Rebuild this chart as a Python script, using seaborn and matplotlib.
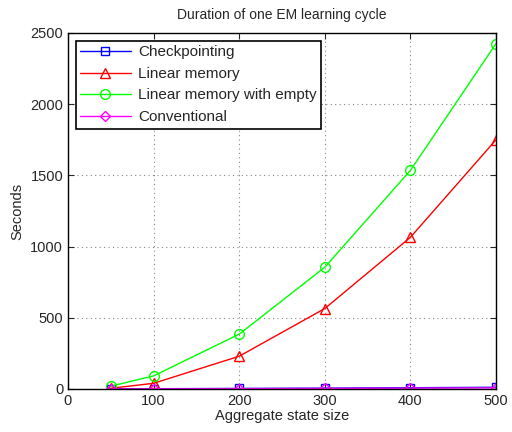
import matplotlib
matplotlib.use("Agg")
import matplotlib.pyplot as plt
import seaborn as sns
import pandas as pd

sizes = [50, 100, 200, 300, 400, 500]
checkpointing = [1, 2, 4, 6, 9, 12]
linear_memory = [5, 40, 230, 565, 1065, 1750]
linear_empty = [20, 92, 385, 855, 1535, 2425]
conventional = [0.5, 1, 2, 4, 6, 8]

series_names = ["Checkpointing", "Linear memory", "Linear memory with empty", "Conventional"]
series_values = [checkpointing, linear_memory, linear_empty, conventional]
colors = ["#0000ff", "#ff0000", "#00ff00", "#ff00ff"]
markers = ["s", "^", "o", "D"]
msizes = [5.5, 7, 7, 5.5]

rows = []
for n, vals in zip(series_names, series_values):
    for s, v in zip(sizes, vals):
        rows.append({"size": s, "seconds": v, "series": n})
df = pd.DataFrame(rows)

sns.set_style("ticks")
plt.rcParams["font.family"] = ["Liberation Sans", "DejaVu Sans"]

fig = plt.figure(figsize=(5.12, 4.32), dpi=100)
ax = fig.add_axes([68/512, 1-389/432, (496-68)/512, (389-33)/432])

for n, c, m, ms in zip(series_names, colors, markers, msizes):
    sub = df[df["series"] == n]
    sns.lineplot(data=sub, x="size", y="seconds", ax=ax, color=c, marker=m,
                 markersize=ms, markerfacecolor="none", markeredgecolor=c,
                 markeredgewidth=1.0, linewidth=1.0, label=n)

ax.set_xlim(0, 500)
ax.set_ylim(0, 2500)
ax.set_xticks([0, 100, 200, 300, 400, 500])
ax.set_yticks([0, 500, 1000, 1500, 2000, 2500])
ax.grid(True, linestyle=(0, (1, 3)), color="#888888", linewidth=0.8)
ax.tick_params(direction="in", top=True, right=True, labelsize=10.5, length=4)
for sp in ax.spines.values():
    sp.set_visible(True)
    sp.set_color("black")
    sp.set_linewidth(1.0)
ax.set_xlabel("Aggregate state size", fontsize=10.5, labelpad=1)
ax.set_ylabel("Seconds", fontsize=10.5)
ax.set_title("Duration of one EM learning cycle", fontsize=10, pad=10)

leg = ax.legend(loc="upper left", fontsize=11, frameon=True, fancybox=False,
                edgecolor="black", framealpha=1, borderaxespad=0.5,
                handlelength=3.3, labelspacing=0.5, borderpad=0.3,
                handletextpad=0.5)
leg.get_frame().set_linewidth(1.2)

fig.savefig("out.png", dpi=100)
